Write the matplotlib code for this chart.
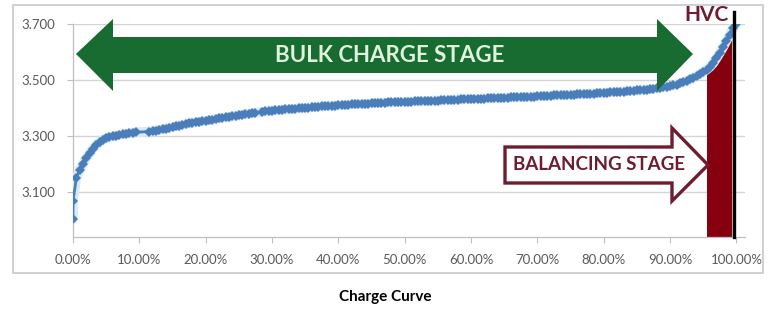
"""Li-ion cell charge curve with bulk / balancing stage annotations."""
import matplotlib
matplotlib.use("Agg")
import matplotlib.pyplot as plt
from matplotlib.patches import Polygon, Rectangle
from matplotlib.transforms import Affine2D
from matplotlib.ticker import FuncFormatter

W, H = 782, 309

# state of charge (%) and cell voltage (V)
SOC_START = [0, 0, 0.5, 1, 1.5, 2, 2.5, 3, 3.5, 4, 4.5, 5, 5.5, 6, 6.5, 7,
             7.5, 8, 8.5, 9, 9.5]
V_START = [3.004, 3.068, 3.150, 3.180, 3.200, 3.222, 3.238, 3.255, 3.268,
           3.279, 3.287, 3.292, 3.296, 3.299, 3.302, 3.304, 3.306, 3.308,
           3.310, 3.312, 3.314]

SOC_RISE = [11.5, 12, 12.5, 13, 13.5, 14, 14.5, 15, 15.5, 16, 16.5, 17, 17.5,
            18, 18.5, 19, 19.5, 20, 20.5, 21, 21.5, 22, 22.5, 23, 23.5, 24,
            24.5, 25, 25.5, 26, 26.5, 27, 27.5]
V_RISE = [3.316, 3.318, 3.320, 3.322, 3.325, 3.327, 3.330, 3.332, 3.335,
          3.337, 3.340, 3.342, 3.345, 3.347, 3.349, 3.351, 3.353, 3.355,
          3.357, 3.359, 3.361, 3.363, 3.365, 3.367, 3.368, 3.370, 3.372,
          3.374, 3.376, 3.378, 3.379, 3.381, 3.383]

SOC_BULK = [28.5, 29, 29.5, 30, 30.5, 31, 31.5, 32, 32.5, 33,
            33.5, 34, 34.5, 35, 35.5, 36, 36.5, 37, 37.5, 38,
            38.5, 39, 39.5, 40, 40.5, 41, 41.5, 42, 42.5, 43,
            43.5, 44, 44.5, 45, 45.5, 46, 46.5, 47, 47.5, 48,
            48.5, 49, 49.5, 50, 50.5, 51, 51.5, 52, 52.5, 53,
            53.5, 54, 54.5, 55, 55.5, 56, 56.5, 57, 57.5, 58,
            58.5, 59, 59.5, 60, 60.5, 61, 61.5, 62, 62.5, 63,
            63.5, 64, 64.5, 65, 65.5, 66, 66.5, 67, 67.5, 68,
            68.5, 69, 69.5, 70, 70.5, 71, 71.5, 72, 72.5, 73,
            73.5, 74, 74.5, 75, 75.5, 76, 76.5, 77, 77.5, 78,
            78.5, 79, 79.5, 80, 80.5, 81, 81.5, 82, 82.5, 83,
            83.5, 84, 84.5, 85, 85.5, 86, 86.5, 87, 87.5, 88,
            88.5, 89, 89.5, 90]
V_BULK = [3.386, 3.388, 3.390, 3.391, 3.392, 3.393, 3.394, 3.395, 3.396, 3.397,
          3.398, 3.399, 3.400, 3.401, 3.402, 3.403, 3.404, 3.405, 3.406, 3.407,
          3.407, 3.408, 3.409, 3.410, 3.411, 3.411, 3.412, 3.413, 3.414, 3.414,
          3.415, 3.416, 3.416, 3.417, 3.418, 3.418, 3.419, 3.419, 3.420, 3.420,
          3.421, 3.421, 3.422, 3.422, 3.423, 3.423, 3.424, 3.424, 3.425, 3.425,
          3.426, 3.426, 3.427, 3.427, 3.428, 3.428, 3.429, 3.429, 3.430, 3.430,
          3.431, 3.431, 3.432, 3.432, 3.433, 3.433, 3.434, 3.434, 3.435, 3.435,
          3.435, 3.436, 3.436, 3.437, 3.437, 3.438, 3.438, 3.439, 3.439, 3.440,
          3.440, 3.441, 3.441, 3.442, 3.442, 3.443, 3.443, 3.444, 3.445, 3.445,
          3.446, 3.446, 3.447, 3.448, 3.448, 3.449, 3.450, 3.450, 3.451, 3.452,
          3.452, 3.453, 3.454, 3.455, 3.455, 3.456, 3.457, 3.458, 3.459, 3.459,
          3.460, 3.461, 3.462, 3.463, 3.464, 3.465, 3.466, 3.467, 3.469, 3.470,
          3.472, 3.474, 3.476, 3.478]

SOC_KNEE = [90.5, 91, 91.5, 92, 92.5, 93, 93.5, 94, 94.5, 95, 95.5, 96,
            96.5, 97, 97.5, 98, 98.5, 99, 99.5, 100]
V_KNEE = [3.481, 3.484, 3.488, 3.492, 3.497, 3.502, 3.508, 3.514, 3.521,
          3.528, 3.537, 3.547, 3.560, 3.578, 3.597, 3.617, 3.640, 3.662,
          3.684, 3.700]

Y_TICKS = [3.1, 3.3, 3.5, 3.7]
X_TICKS = [0, 10, 20, 30, 40, 50, 60, 70, 80, 90, 100]
BALANCE_FROM, BALANCE_TO = 95.5, 99.3
HVC_SOC = 99.6

BLUE = "#4a7ebb"
GREEN = "#186b31"
DARK_RED = "#86000f"
LABEL_RED = "#6e1c30"
GREY_TXT = "#595959"
FONT = ["Lato", "DejaVu Sans"]

soc = SOC_START + SOC_RISE + SOC_BULK + SOC_KNEE
volt = V_START + V_RISE + V_BULK + V_KNEE

plt.rcParams["font.family"] = FONT
fig = plt.figure(figsize=(W / 100, H / 100), dpi=100)
ax = fig.add_axes([73 / W, 1 - 237 / H, (745 - 73) / W, (237 - 24) / H])
px = Affine2D().scale(1 / W, -1 / H).translate(0, 1) + fig.transFigure

ymin, ymax = 2.94, 3.70
ax.set_xlim(0, 101.3)
ax.set_ylim(ymin, ymax)
ax.set_yticks(Y_TICKS)
ax.set_xticks(X_TICKS)
ax.yaxis.set_major_formatter(FuncFormatter(lambda v, _: f"{v:.3f}"))
ax.xaxis.set_major_formatter(FuncFormatter(lambda v, _: f"{v:.2f}%"))
ax.tick_params(colors="#bfbfbf", labelcolor=GREY_TXT, labelsize=9.5,
               length=4, width=0.8)
ax.tick_params(axis="y", pad=9)
ax.tick_params(axis="x", pad=8)
ax.grid(axis="y", color="#d4d4d4", linewidth=1)
ax.set_axisbelow(True)
for side in ("top", "right"):
    ax.spines[side].set_visible(False)
for side in ("left", "bottom"):
    ax.spines[side].set_color("#bfbfbf")
    ax.spines[side].set_linewidth(0.9)

# balancing zone under the curve
bal = [(s, v) for s, v in zip(soc, volt) if BALANCE_FROM <= s <= BALANCE_TO + 0.3]
bx = [BALANCE_FROM] + [s for s, _ in bal]
by = [volt[soc.index(BALANCE_FROM)]] + [v for _, v in bal]
bx[-1] = BALANCE_TO
ax.fill_between(bx, by, ymin, color=DARK_RED, linewidth=0, zorder=2)
ax.plot([HVC_SOC, HVC_SOC], [ymin, 3.743], color="black", linewidth=2.4,
        clip_on=False, zorder=5)

# charge curve with faint halo
ax.plot(soc, volt, color="#d8eaf6", linewidth=7, zorder=3, solid_capstyle="round")
ax.plot(soc, volt, color=BLUE, linewidth=2, marker="D", markersize=5,
        markeredgewidth=0, zorder=4)

# BULK CHARGE STAGE double arrow (figure pixel coords)
bulk = [(76, 54), (113, 19), (113, 37), (657, 37), (657, 19), (693, 54),
        (657, 91), (657, 73), (113, 73), (113, 91)]
fig.patches.append(Polygon(bulk, closed=True, transform=px, facecolor=GREEN,
                           edgecolor="none", zorder=6))
fig.text(390 / W, 1 - 55 / H, "BULK CHARGE STAGE", color="#dff2dc",
         fontsize=16, fontweight="bold", ha="center", va="center", zorder=7)

# BALANCING STAGE outlined arrow
balance = [(505, 147), (672, 147), (672, 128), (708, 165), (672, 201),
           (672, 183), (505, 183)]
fig.patches.append(Polygon(balance, closed=True, transform=px, facecolor="white",
                           edgecolor=LABEL_RED, linewidth=2.4, joinstyle="miter",
                           zorder=6))
fig.text(599 / W, 1 - 165 / H, "BALANCING STAGE", color=LABEL_RED,
         fontsize=13.5, fontweight="bold", ha="center", va="center", zorder=7)

fig.text(706 / W, 1 - 15 / H, "HVC", color=LABEL_RED, fontsize=15,
         fontweight="bold", ha="center", va="center", zorder=7)

# chart frame and caption
fig.patches.append(Rectangle((13, 5), 750, 268, transform=px, fill=False,
                             edgecolor="#c8c8c8", linewidth=1.2, zorder=0))
fig.text(385 / W, 1 - 297 / H, "Charge Curve", color="black", fontsize=11,
         fontweight="bold", ha="center", va="center")

fig.savefig("out.png", dpi=100)
